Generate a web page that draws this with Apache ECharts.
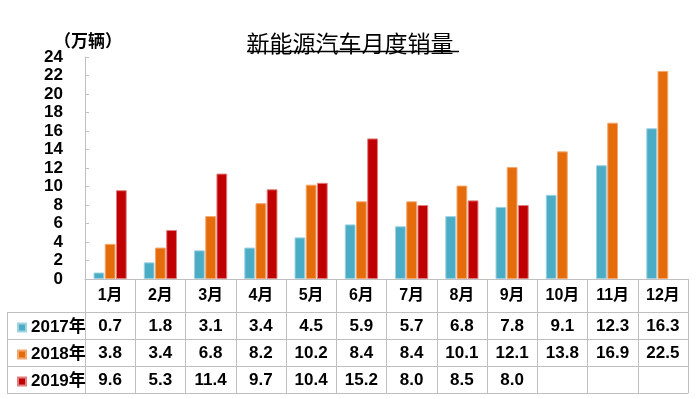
<!DOCTYPE html>
<html><head><meta charset="utf-8">
<script src="https://cdn.jsdelivr.net/npm/echarts@6/dist/echarts.min.js"></script>
<style>html,body{margin:0;padding:0;background:#fff;}#c{width:700px;height:399px;}</style>
</head><body><div id="c"></div>
<script>
const months = ['1月','2月','3月','4月','5月','6月','7月','8月','9月','10月','11月','12月'];
const seriesNames = ['2017年','2018年','2019年'];
const v2017 = [0.7,1.8,3.1,3.4,4.5,5.9,5.7,6.8,7.8,9.1,12.3,16.3];
const v2018 = [3.8,3.4,6.8,8.2,10.2,8.4,8.4,10.1,12.1,13.8,16.9,22.5];
const v2019 = [9.6,5.3,11.4,9.7,10.4,15.2,8.0,8.5,8.0,null,null,null];
const yTicks = {min:0,max:24,interval:2};
const colors = ['#4BACC6','#E46C0A','#C00000'];
const borders = ['#9fd3e2','#f4a870','#e08080'];

const FONT = '"Liberation Sans", Arial, "Noto Sans CJK SC", sans-serif';
const gridL = 85, gridR = 12, gridT = 57, gridB = 120;
const rowH = 27, headH = 33;
const lineC = '#BFBFBF';
const chart = echarts.init(document.getElementById('c'));
const allVals = [v2017, v2018, v2019];
const fmt = v => v == null ? '' : v.toFixed(1);

const xAxes = [{
  type:'category', data: months, position:'bottom', gridIndex:0,
  axisLine:{show:true,lineStyle:{color:lineC,width:1}},
  axisTick:{show:true,length:headH + rowH*3,lineStyle:{color:lineC,width:1}},
  axisLabel:{color:'#000',fontSize:16,fontWeight:'bold',fontFamily:FONT,margin:9,interval:0}
}];
allVals.forEach((arr,i)=>{
  xAxes.push({
    type:'category', data: arr.map(fmt), position:'bottom', gridIndex:0,
    offset: headH + rowH*i,
    axisLine:{show:true,lineStyle:{color:lineC,width:1}},
    axisTick:{show:false},
    axisLabel:{color:'#000',fontSize:17,fontWeight:'bold',fontFamily:FONT,margin:6,interval:0}
  });
});
xAxes.push({
  type:'category', data: months, position:'bottom', gridIndex:0, offset: headH + rowH*3,
  axisLine:{show:true,lineStyle:{color:lineC,width:1}}, axisTick:{show:false}, axisLabel:{show:false}
});

const tableTop = 399 - gridB;
const graphics = [];
for (let i=1;i<=4;i++){
  const y = tableTop + headH + rowH*(i-1) + 0.5;
  graphics.push({type:'line',shape:{x1:7,y1:y,x2:gridL,y2:y},style:{stroke:lineC,lineWidth:1}});
}
graphics.push({type:'line',shape:{x1:7.5,y1:tableTop+headH,x2:7.5,y2:tableTop+headH+rowH*3},style:{stroke:lineC,lineWidth:1}});
graphics.push({type:'line',shape:{x1:247,y1:51.5,x2:459,y2:51.5},style:{stroke:'#000',lineWidth:1.5}});

chart.setOption({
  animation:false,
  title:{text:'新能源汽车月度销量',left:'center',top:27,
    textStyle:{fontSize:23,fontWeight:'normal',color:'#000',fontFamily:'"Noto Sans CJK SC", sans-serif'}},
  legend:{orient:'vertical',left:12,top:314,itemWidth:8,itemHeight:8,itemGap:10,icon:'rect',
    data:seriesNames,
    textStyle:{fontSize:17,fontWeight:'bold',color:'#000',fontFamily:FONT}},
  grid:{left:gridL,right:gridR,top:gridT,bottom:gridB,containLabel:false},
  xAxis:xAxes,
  yAxis:{type:'value',min:yTicks.min,max:yTicks.max,interval:yTicks.interval,
    name:'（万辆）',nameLocation:'end',nameGap:3,
    nameTextStyle:{fontSize:17,fontWeight:'bold',color:'#000',fontFamily:'"Noto Sans CJK SC", sans-serif',align:'center',padding:[0,0,0,6]},
    axisLine:{show:true,lineStyle:{color:lineC}},
    axisTick:{show:true,inside:true,length:4,lineStyle:{color:lineC}},
    splitLine:{show:false},
    axisLabel:{color:'#000',fontSize:17,fontWeight:'bold',fontFamily:FONT,margin:22}},
  graphic:graphics,
  series: allVals.map((arr,i)=>({
    name:seriesNames[i],type:'bar',xAxisIndex:0,data:arr,
    barGap:'4%',barCategoryGap:'34%',
    itemStyle:{color:colors[i],borderColor:borders[i],borderWidth:1}
  }))
});
</script></body></html>
